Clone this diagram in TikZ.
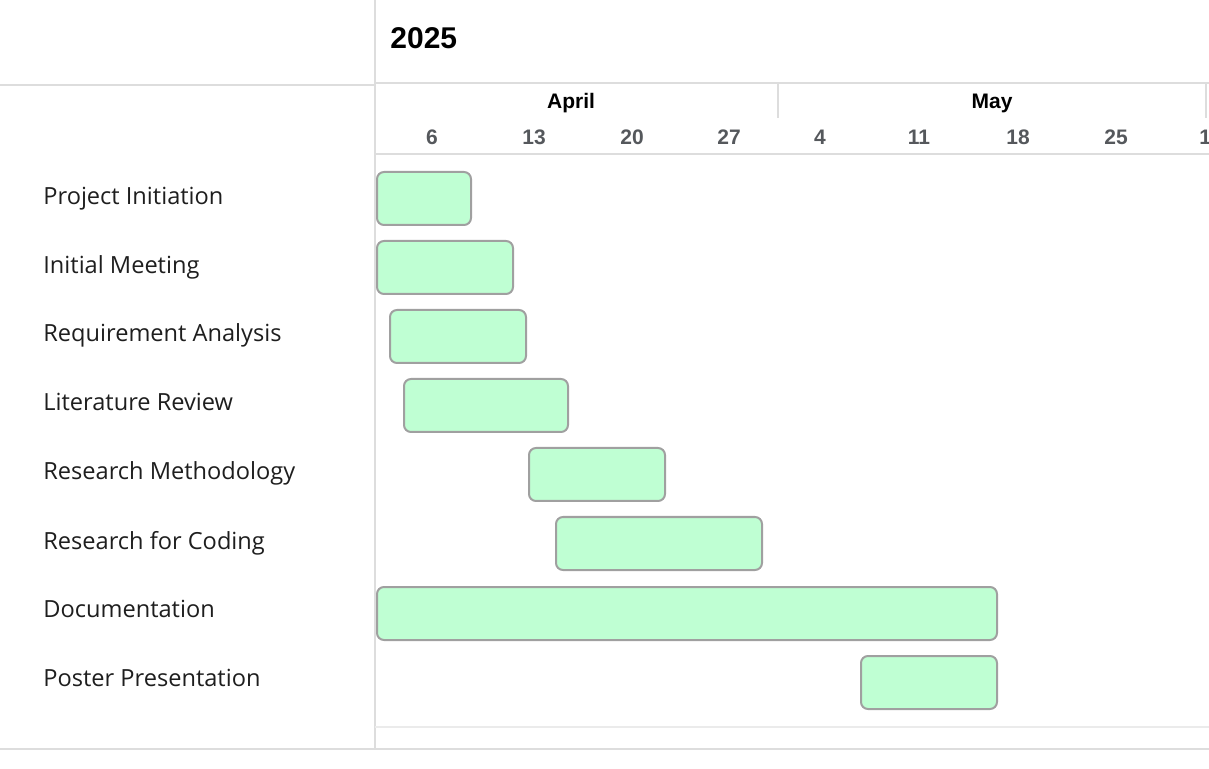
\documentclass[tikz,border=0pt]{standalone}
\usepackage{fontspec}
\setmainfont{Open Sans}
\newfontfamily\headfont{Liberation Sans}
\usepackage{xcolor}
\usetikzlibrary{positioning}

\definecolor{gridgray}{RGB}{221,221,221}
\definecolor{barfill}{RGB}{191,255,211}
\definecolor{bardraw}{RGB}{160,160,160}
\definecolor{daygray}{RGB}{85,88,92}
\definecolor{labeltext}{RGB}{30,30,30}

\begin{document}
\begin{tikzpicture}[
    x=0.5pt, y=-0.5pt,
    grid/.style = {gridgray, line width=1.2pt},
    gridlight/.style = {gridgray!60, line width=1pt},
    year/.style = {font=\headfont\bfseries\fontsize{15}{18}\selectfont, anchor=west, inner sep=0pt},
    month/.style = {font=\headfont\bfseries\fontsize{10.5}{12}\selectfont, inner sep=0pt},
    day/.style = {font=\headfont\bfseries\fontsize{10.5}{12}\selectfont, text=daygray, inner sep=0pt},
    task/.style = {font=\fontsize{11.8}{14}\selectfont, text=labeltext, anchor=base west, inner sep=0pt},
    bar/.style = {rectangle, draw=bardraw, fill=barfill, line width=1pt, rounded corners=3.5pt, anchor=north west, minimum height=26.5pt, inner sep=0pt}
]
\useasboundingbox (0,0) rectangle (1209,769);

% Grid lines
\draw [grid] (375,0) -- (375,750);
\draw [grid] (0,85) -- (375,85);
\draw [grid] (375,83) -- (1209,83);
\draw [grid] (778,84) -- (778,118);
\draw [grid] (1206,84) -- (1206,118);
\draw [grid] (375,154) -- (1209,154);
\draw [gridlight] (375,727) -- (1209,727);
\draw [grid] (0,749) -- (1209,749);

% Header
\node [year] (yr) at (390,38) {2025};
\node [month] (apr) at (571,103) {April};
\node [month] (may) at (992,103) {May};
\node [day] (d06) at (432,137) {6};
\node [day] (d13) at (534,137) {13};
\node [day] (d20) at (632,137) {20};
\node [day] (d27) at (729,137) {27};
\node [day] (d04) at (820,137) {4};
\node [day] (d11) at (919,137) {11};
\node [day] (d18) at (1018,137) {18};
\node [day] (d25) at (1116,137) {25};
\node [day, anchor=west] (d01) at (1199,137) {1};

% Task labels
\node [task] (l1) at (43,205) {Project Initiation};
\node [task] (l2) at (43,274) {Initial Meeting};
\node [task] (l3) at (43,342) {Requirement Analysis};
\node [task] (l4) at (43,411) {Literature Review};
\node [task] (l5) at (43,480) {Research Methodology};
\node [task] (l6) at (43,549) {Research for Coding};
\node [task] (l7) at (43,617) {Documentation};
\node [task] (l8) at (43,686) {Poster Presentation};

% Bars
\node [bar, minimum width=47pt] (b1) at (376,171) {};
\node [bar, minimum width=68pt] (b2) at (376,240) {};
\node [bar, minimum width=68pt] (b3) at (389,309) {};
\node [bar, minimum width=82pt] (b4) at (403,378) {};
\node [bar, minimum width=68pt] (b5) at (528,447) {};
\node [bar, minimum width=103pt] (b6) at (555,516) {};
\node [bar, minimum width=310pt] (b7) at (376,586) {};
\node [bar, minimum width=68pt] (b8) at (860,655) {};

\end{tikzpicture}
\end{document}
